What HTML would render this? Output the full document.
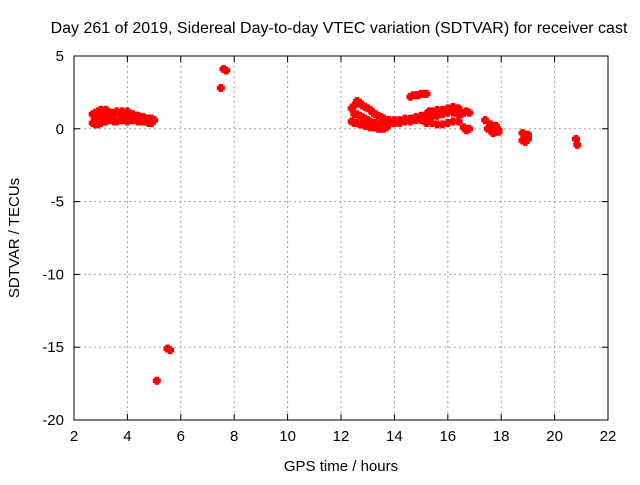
<!DOCTYPE html>
<html><head><meta charset="utf-8"><style>
body{margin:0;background:#fff}
svg text{font-family:"Liberation Sans",sans-serif;font-size:15px;fill:#000}
</style></head><body>
<svg id="c" width="640" height="480"></svg>
<script>
const xTicks=[2,4,6,8,10,12,14,16,18,20,22];
const yTicks=[5,0,-5,-10,-15,-20];
const hours=[2.7,2.8,2.9,3.0,3.1,3.2,3.3,3.4,3.5,3.6,3.7,3.8,3.9,4.0,4.1,4.2,4.3,4.4,4.5,4.6,4.7,4.8,4.9,5.0,
2.7,2.8,2.9,3.0,3.1,3.2,3.3,3.4,3.5,3.6,3.7,3.8,3.9,4.0,4.1,4.2,4.3,4.4,4.5,4.6,4.7,4.8,4.9,
2.8,3.0,3.2,3.9,4.1,
7.5,7.6,7.7,5.5,5.6,5.1,
12.4,12.5,12.6,12.7,12.8,12.9,13.0,13.1,13.2,13.3,13.4,13.5,13.6,13.7,13.8,
12.4,12.5,12.6,12.7,12.8,12.9,13.0,13.1,13.2,13.3,13.4,13.5,13.6,13.7,
12.5,12.6,12.7,12.8,12.9,13.0,13.1,13.2,13.3,13.4,13.5,
13.6,13.8,14.0,14.2,14.4,14.6,14.8,15.0,15.2,15.4,15.6,15.8,16.0,16.2,16.4,
13.8,14.0,14.2,14.4,14.6,14.8,15.0,15.2,15.4,15.6,15.8,16.0,16.2,16.4,
15.2,15.4,15.6,15.8,16.0,16.2,16.4,15.3,15.7,
14.6,14.7,14.8,14.9,15.0,15.1,15.2,
16.5,16.6,16.7,16.8,16.6,16.8,16.7,
17.4,17.5,17.6,17.7,17.8,17.9,17.6,17.8,17.9,
18.8,18.9,19.0,18.8,18.9,19.0,18.9,
20.8,20.85];
const values=[1.0,1.1,1.2,1.3,1.2,1.3,1.1,1.1,1.0,1.2,1.1,1.2,1.1,1.2,1.0,1.0,0.9,0.9,0.8,0.8,0.7,0.7,0.7,0.6,
0.4,0.3,0.3,0.4,0.5,0.5,0.6,0.6,0.5,0.5,0.6,0.6,0.6,0.5,0.6,0.6,0.6,0.5,0.5,0.5,0.5,0.4,0.4,
0.7,0.8,0.8,0.8,0.8,
2.8,4.1,4.0,-15.1,-15.2,-17.3,
1.4,1.6,1.9,1.8,1.6,1.5,1.4,1.3,1.1,1.0,0.9,0.8,0.7,0.6,0.5,
0.5,0.4,0.4,0.3,0.3,0.2,0.2,0.1,0.1,0.1,0.0,0.0,0.0,0.1,
1.0,1.0,0.9,0.8,0.7,0.6,0.5,0.4,0.4,0.3,0.3,
0.6,0.6,0.6,0.6,0.7,0.7,0.8,0.9,1.0,1.2,1.3,1.3,1.4,1.5,1.4,
0.3,0.4,0.4,0.5,0.5,0.6,0.6,0.7,0.8,0.9,1.0,1.1,1.1,1.0,
0.4,0.4,0.3,0.3,0.4,0.5,0.5,1.2,1.2,
2.2,2.3,2.3,2.3,2.4,2.4,2.4,
1.0,1.1,1.2,1.1,0.1,0.0,-0.1,
0.6,0.0,-0.1,-0.3,-0.2,-0.1,0.3,0.2,-0.2,
-0.3,-0.5,-0.4,-0.8,-0.9,-0.7,-0.6,
-0.7,-1.1];
const svg=document.getElementById('c');
const NS='http://www.w3.org/2000/svg';
const L=74,R=608,T=56,B=420;
const sx=h=>L+(h-2)/20*(R-L);
const sy=v=>T+(5-v)/25*(B-T);
function mk(t,a){const e=document.createElementNS(NS,t);for(const k in a)e.setAttribute(k,a[k]);svg.appendChild(e);return e;}
xTicks.forEach(t=>{
  if(t>2&&t<22){const g=mk('line',{x1:sx(t),x2:sx(t),y1:T,y2:B,stroke:'#a0a0a0','stroke-dasharray':'2,3'});
  
  }
  mk('line',{x1:sx(t),x2:sx(t),y1:B,y2:B-6,stroke:'#000'});
  mk('line',{x1:sx(t),x2:sx(t),y1:T,y2:T+6,stroke:'#000'});
  const tx=mk('text',{x:sx(t),y:B+21,'text-anchor':'middle'});tx.textContent=t;
  
  
});
yTicks.forEach(t=>{
  if(t<5&&t>-20){const g=mk('line',{x1:L,x2:R,y1:sy(t),y2:sy(t),stroke:'#a0a0a0','stroke-dasharray':'2,3'});
  
  }
  mk('line',{x1:L,x2:L+6,y1:sy(t),y2:sy(t),stroke:'#000'});
  mk('line',{x1:R,x2:R-6,y1:sy(t),y2:sy(t),stroke:'#000'});
  const tx=mk('text',{x:L-10,y:sy(t)+5,'text-anchor':'end'});tx.textContent=t;
  
  
});
const fr=mk('rect',{x:L,y:T,width:R-L,height:B-T,fill:'none',stroke:'#000'});


hours.forEach((h,i)=>{
  const x=sx(h),y=sy(values[i]);
  const p=mk('path',{d:`M${x-4} ${y}H${x+4}M${x} ${y-4}V${y+4}M${x-4} ${y-1.5}H${x+4}M${x-1.5} ${y-4}V${y+4}M${x-4} ${y+1.5}H${x+4}M${x+1.5} ${y-4}V${y+4}`,stroke:'#f00','stroke-width':1.5});
  
  
});
const t1=mk('text',{x:339,y:33,'text-anchor':'middle','font-size':'16',style:'font-size:16px'});t1.textContent='Day 261 of 2019, Sidereal Day-to-day VTEC variation (SDTVAR) for receiver cast';


const t2=mk('text',{x:341,y:471,'text-anchor':'middle'});t2.textContent='GPS time / hours';


const t3=mk('text',{x:19,y:238,'text-anchor':'middle',transform:'rotate(-90 19 238)'});t3.textContent='SDTVAR / TECUs';


</script>
</body></html>
